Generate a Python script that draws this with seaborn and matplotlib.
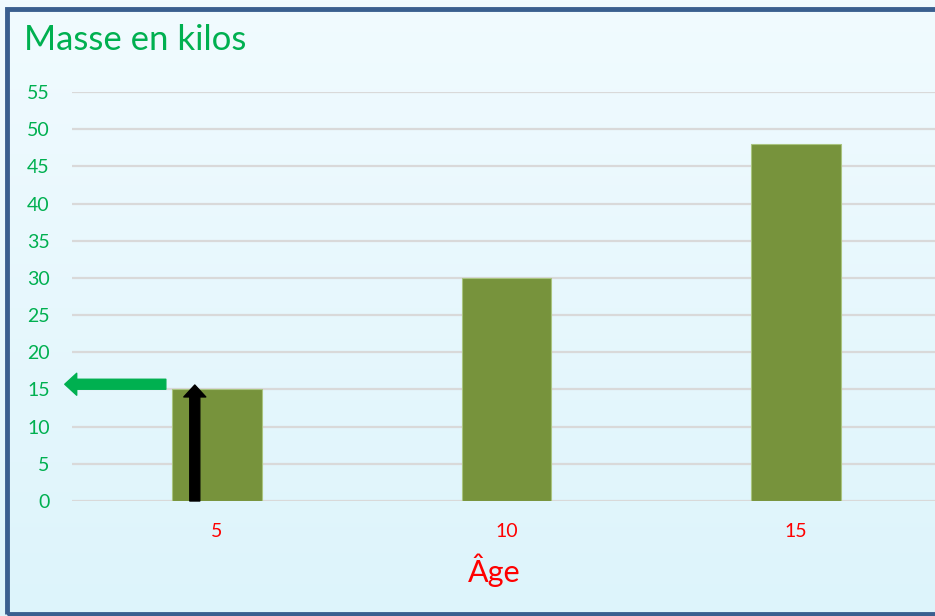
import numpy as np
import pandas as pd
import seaborn as sns
import matplotlib.pyplot as plt
from matplotlib.patches import Rectangle

ages = ["5", "10", "15"]
masses = [15, 30, 48]
y_ticks = list(range(0, 60, 5))

df = pd.DataFrame({"age": ages, "masse": masses})

sns.set_theme(style="white")
plt.rcParams["font.family"] = ["Lato", "DejaVu Sans"]

W, H = 935, 616
fig = plt.figure(figsize=(W / 100, H / 100), dpi=100)

# gradient background
bg = fig.add_axes([0, 0, 1, 1], zorder=-2)
grad = np.linspace(0, 1, 256).reshape(-1, 1)
top = np.array([0xF1, 0xFB, 0xFF]) / 255
bot = np.array([0xDD, 0xF4, 0xFB]) / 255
img = top[None, None, :] * (1 - grad[:, :, None]) + bot[None, None, :] * grad[:, :, None]
bg.imshow(img, aspect="auto", extent=[0, 1, 0, 1])
bg.set_axis_off()
fig.patches.append(Rectangle((7 / W, 2 / H), 1.2, (607 - 2) / H, transform=fig.transFigure,
                             fill=False, edgecolor="#3A5F8F", linewidth=3.5))

ax = fig.add_axes([72 / W, (H - 501) / H, (W - 72) / W, 409 / H])
ax.set_facecolor("none")
sns.barplot(data=df, x="age", y="masse", color="#77933C", saturation=1, width=0.31,
            edgecolor="#A9C47F", linewidth=0.8, ax=ax, zorder=3)

ax.set_ylim(0, 55)
ax.set_xlim(-0.5, 2.48)
ax.set_yticks(y_ticks)
ax.yaxis.grid(True, color="#D9D9D9", linewidth=1.6, zorder=0)
ax.set_axisbelow(True)
for s in ax.spines.values():
    s.set_visible(False)
ax.tick_params(axis="y", length=0, pad=16, labelsize=14, labelcolor="#00B050")
ax.tick_params(axis="x", length=0, pad=16, labelsize=14, labelcolor="#FF0000")
ax.set_xlabel("")
ax.set_ylabel("")

# arrows pointing at the first bar's value
v = masses[0]
style = "simple,head_length=8.6,head_width=15.8,tail_width=7.2"
ax.annotate("", xy=(-0.076, v + 0.6), xytext=(-0.076, 0),
            arrowprops=dict(arrowstyle=style, color="black", shrinkA=0, shrinkB=0,
                            mutation_scale=1), zorder=5)
ax.annotate("", xy=(-0.525, v + 0.7), xytext=(-0.176, v + 0.7),
            arrowprops=dict(arrowstyle=style, color="#00B050", shrinkA=0, shrinkB=0,
                            mutation_scale=1), zorder=5, annotation_clip=False)

fig.text(24 / W, 1 - 40 / H, "Masse en kilos", color="#00B050", fontsize=25, va="center", ha="left")
fig.text(494 / W, 1 - 570 / H, "Âge", color="#FF0000", fontsize=22, va="center", ha="center")

fig.savefig("out.png", dpi=100)
